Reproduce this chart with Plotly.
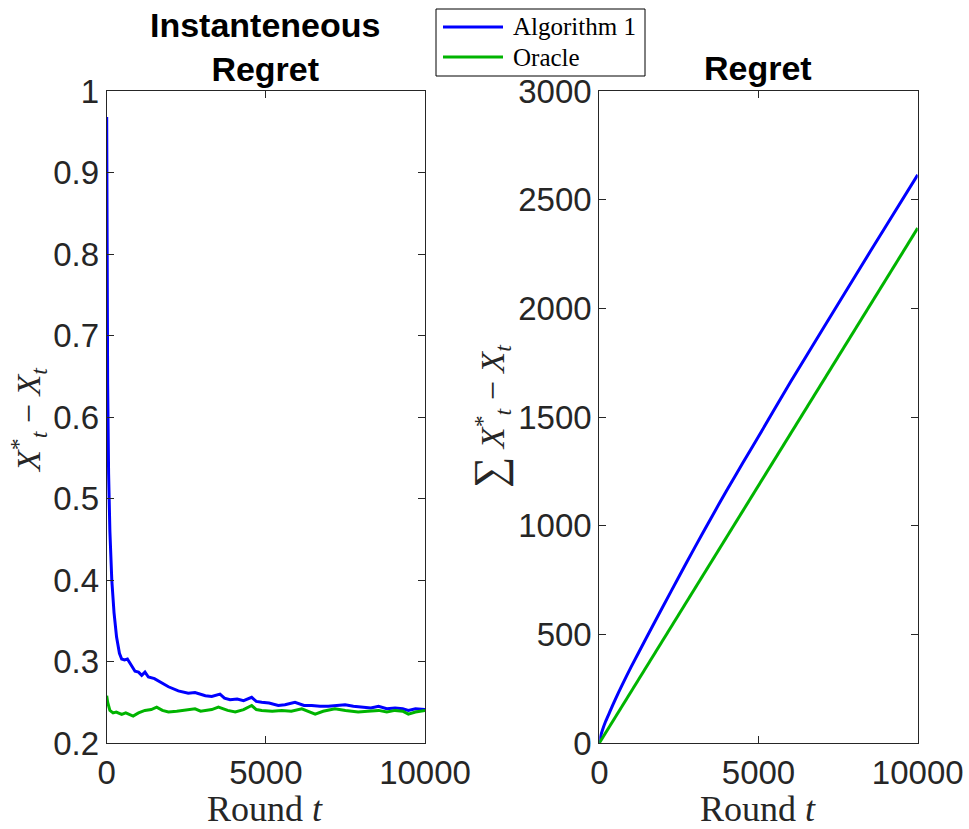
import plotly.graph_objects as go

# --- data ---
# instantaneous regret, Algorithm 1
inst_alg_t = [0, 5, 15, 30, 60, 100, 160, 230, 310, 400, 470, 560, 650, 750, 830, 889,
              1000, 1100, 1203, 1310, 1500, 1728, 1940, 2250, 2560, 2775, 3000, 3100,
              3300, 3560, 3700, 3875, 4100, 4300, 4555, 4700, 4870, 5100, 5390, 5600,
              5915, 6200, 6440, 6700, 6960, 7200, 7490, 7750, 8010, 8300, 8540, 8800,
              9060, 9300, 9477, 9700, 10000]
inst_alg_v = [0.968, 0.90, 0.75, 0.64, 0.53, 0.46, 0.40, 0.36, 0.33, 0.31, 0.303, 0.302,
              0.303, 0.296, 0.292, 0.288, 0.287, 0.283, 0.287, 0.281, 0.279, 0.274, 0.269,
              0.264, 0.261, 0.262, 0.259, 0.258, 0.257, 0.260, 0.255, 0.253, 0.254, 0.252,
              0.256, 0.251, 0.250, 0.249, 0.246, 0.247, 0.250, 0.246, 0.246, 0.245, 0.245,
              0.246, 0.247, 0.245, 0.244, 0.243, 0.245, 0.242, 0.243, 0.242, 0.240, 0.242,
              0.241]

# instantaneous regret, Oracle
inst_orc_t = [0, 30, 100, 200, 300, 470, 600, 830, 1000, 1200, 1400, 1570, 1750, 1940,
              2200, 2460, 2775, 2950, 3100, 3300, 3510, 3800, 4040, 4300, 4555, 4700,
              4870, 5200, 5500, 5800, 6130, 6350, 6550, 6800, 7170, 7500, 7900, 8200,
              8540, 8800, 9060, 9300, 9477, 9700, 10000]
inst_orc_v = [0.258, 0.250, 0.240, 0.237, 0.238, 0.235, 0.237, 0.233, 0.237, 0.240, 0.241,
              0.244, 0.240, 0.238, 0.239, 0.240, 0.242, 0.239, 0.240, 0.241, 0.244, 0.240,
              0.238, 0.241, 0.246, 0.241, 0.240, 0.239, 0.240, 0.239, 0.242, 0.239, 0.2355,
              0.239, 0.242, 0.240, 0.238, 0.239, 0.240, 0.238, 0.240, 0.239, 0.2355, 0.238,
              0.240]

# cumulative regret
cum_alg_t = [0, 50, 100, 200, 350, 500, 700, 1000, 1500, 2000, 2500, 3000, 3500, 4000,
             4500, 5000, 6000, 7000, 8000, 9000, 10000]
cum_alg_v = [0, 35, 60, 100, 150, 200, 262, 350, 490, 628, 765, 900, 1032, 1162, 1287,
             1410, 1660, 1900, 2140, 2378, 2614]

cum_orc_t = [0, 1000, 2000, 2240, 3000, 4000, 4060, 5000, 6000, 6230, 7000, 8000, 9000, 10000]
cum_orc_v = [0, 237, 474, 531, 711, 948, 963, 1185, 1422, 1476, 1659, 1896, 2133, 2369]

series_names = ['Algorithm 1', 'Oracle']

x_ticks = [0, 5000, 10000]
left_y_ticks = [0.2, 0.3, 0.4, 0.5, 0.6, 0.7, 0.8, 0.9, 1]
right_y_ticks = [0, 500, 1000, 1500, 2000, 2500, 3000]

BLUE = '#0000ff'
GREEN = '#00b400'
AXC = '#262626'
SANS = 'Liberation Sans, Arial, Helvetica, sans-serif'
SERIF = 'Liberation Serif, Times New Roman, serif'

W, H = 969, 829


def px(x):
    return x / W


def py(y):
    return 1 - y / H


fig = go.Figure()

fig.add_trace(go.Scatter(x=inst_alg_t, y=inst_alg_v, mode='lines', name=series_names[0],
                         line=dict(color=BLUE, width=3), xaxis='x', yaxis='y'))
fig.add_trace(go.Scatter(x=inst_orc_t, y=inst_orc_v, mode='lines', name=series_names[1],
                         line=dict(color=GREEN, width=3), xaxis='x', yaxis='y'))
fig.add_trace(go.Scatter(x=cum_alg_t, y=cum_alg_v, mode='lines', name=series_names[0],
                         line=dict(color=BLUE, width=3, shape='spline', smoothing=0.6),
                         xaxis='x2', yaxis='y2'))
fig.add_trace(go.Scatter(x=cum_orc_t, y=cum_orc_v, mode='lines', name=series_names[1],
                         line=dict(color=GREEN, width=3), xaxis='x2', yaxis='y2'))


def ax(domain, rng, ticks, anchor, fmt=None):
    return dict(domain=domain, range=rng, tickvals=ticks, tickformat=fmt,
                showline=True, mirror='ticks', linecolor=AXC, linewidth=1,
                ticks='inside', ticklen=7, tickcolor=AXC, showgrid=False, zeroline=False,
                tickfont=dict(family=SANS, size=33, color=AXC), anchor=anchor,
                automargin=False, fixedrange=True)


ydom = [py(743), py(91)]
xa1 = ax([px(106.7), px(425)], [0, 10000], x_ticks, 'y', 'd')
ya1 = ax(ydom, [0.2, 1], left_y_ticks, 'x')
xa2 = ax([px(599.3), px(917.7)], [0, 10000], x_ticks, 'y2', 'd')
ya2 = ax(ydom, [0, 3000], right_y_ticks, 'x2', 'd')

fig.update_layout(
    width=W, height=H,
    margin=dict(l=0, r=0, t=0, b=0, autoexpand=False),
    paper_bgcolor='white', plot_bgcolor='white',
    xaxis=xa1, yaxis=ya1, xaxis2=xa2, yaxis2=ya2,
    showlegend=False,
)

# legend box drawn by hand (matlab-style, tighter than plotly's own)
shapes = [dict(type='rect', xref='paper', yref='paper', x0=px(436), x1=px(645),
               y0=py(76), y1=py(9), line=dict(color='black', width=1), fillcolor='white')]
ann = []
for i, (name, col) in enumerate(zip(series_names, [BLUE, GREEN])):
    yy = 27 + 30 * i
    shapes.append(dict(type='line', xref='paper', yref='paper', x0=px(443), x1=px(503),
                       y0=py(yy), y1=py(yy), line=dict(color=col, width=3)))
    ann.append(dict(x=px(511), y=py(yy), text=name, xanchor='left',
                    font=dict(family=SERIF, size=25, color='black')))

ann += [
    dict(x=px(265), y=py(47), text='<b>Instanteneous<br>Regret</b>',
         font=dict(family=SANS, size=34, color='black')),
    dict(x=px(758), y=py(68), text='<b>Regret</b>',
         font=dict(family=SANS, size=34, color='black')),
    dict(x=px(265), y=py(809), text='Round <i>t</i>',
         font=dict(family=SERIF, size=36, color=AXC)),
    dict(x=px(758), y=py(809), text='Round <i>t</i>',
         font=dict(family=SERIF, size=36, color=AXC)),
    dict(x=px(28), y=py(420), textangle=-90,
         text='<i>X</i><sup>*</sup><sub><i>t</i></sub> − <i>X</i><sub><i>t</i></sub>',
         font=dict(family=SERIF, size=34, color=AXC)),
    dict(x=px(490), y=py(416), textangle=-90,
         text='<span style="font-size:44px">∑</span> <i>X</i><sup>*</sup><sub><i>t</i></sub>'
              ' − <i>X</i><sub><i>t</i></sub>',
         font=dict(family=SERIF, size=34, color=AXC)),
]
for a in ann:
    a.setdefault('xanchor', 'center')
    a.update(xref='paper', yref='paper', showarrow=False, yanchor='middle')
fig.update_layout(annotations=ann, shapes=shapes)

# drop the default 8px body margin so the figure fills the window exactly
fig.write_html("out.html", config={'displayModeBar': False},
               post_script="document.body.style.margin='0';")
